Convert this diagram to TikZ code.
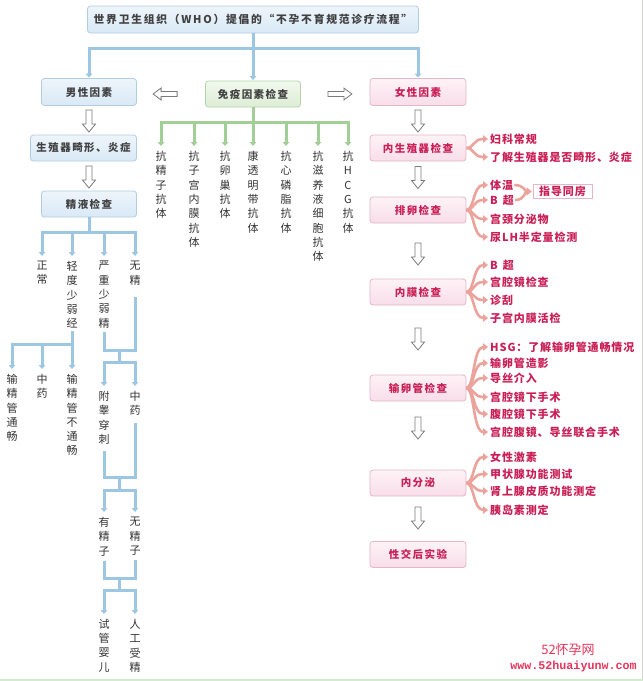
\documentclass[tikz,border=0pt]{standalone}
\usepackage{fontspec}
\setmainfont{Noto Sans CJK SC}
\newfontfamily\cjk{Noto Sans CJK SC}
\newfontfamily\cjksp[LetterSpace=16]{Noto Sans CJK SC}
\newfontfamily\cjkbox[LetterSpace=14]{Noto Sans CJK SC}
\newfontfamily\cjkitem[LetterSpace=8]{Noto Sans CJK SC}
\newfontfamily\wmono{Liberation Mono}
\usetikzlibrary{arrows.meta,calc}
\definecolor{bluetop}{HTML}{EEF5FB}
\definecolor{bluebot}{HTML}{D9E9F6}
\definecolor{blueborder}{HTML}{B0CDE4}
\definecolor{blueline}{HTML}{9DC6E3}
\definecolor{greentop}{HTML}{F2F8EF}
\definecolor{greenbot}{HTML}{DDEDD5}
\definecolor{greenborder}{HTML}{B4D3A9}
\definecolor{greenline}{HTML}{A3CE98}
\definecolor{pinktop}{HTML}{FEF3F7}
\definecolor{pinkbot}{HTML}{F8DDE8}
\definecolor{pinkborder}{HTML}{E4B6C7}
\definecolor{pinktext}{HTML}{C91F56}
\definecolor{branchcol}{HTML}{EBA39C}
\definecolor{arrgray}{HTML}{7A7A7A}
\definecolor{labeltext}{HTML}{333333}
\definecolor{boxtext}{HTML}{404040}
\definecolor{wmred}{HTML}{E8345A}
\definecolor{stripgreen}{HTML}{D3EBCF}
\definecolor{edgegray}{HTML}{D0D4D0}
\tikzset{
 boxbase/.style={rounded corners=3pt, line width=0.8pt, minimum height=26pt, inner sep=0pt, font=\cjkbox\fontsize{10.5}{12}\selectfont\bfseries},
 bluebox/.style={boxbase, draw=blueborder, top color=bluetop, bottom color=bluebot, text=boxtext},
 greenbox/.style={boxbase, draw=greenborder, top color=greentop, bottom color=greenbot, text=boxtext},
 pinkbox/.style={boxbase, draw=pinkborder, top color=pinktop, bottom color=pinkbot, text=pinktext, minimum width=96pt},
 vlabel/.style={anchor=north, inner sep=0pt, align=center, font=\cjk\fontsize{11}{14.3}\selectfont, text=labeltext},
 bline/.style={draw=blueline, line width=3pt},
 barrow/.style={bline, -{Triangle[width=6.5pt,length=4pt]}, shorten >=5pt},
 gline/.style={draw=greenline, line width=3pt},
 garrow/.style={gline, -{Triangle[width=6.5pt,length=4pt]}, shorten >=5pt},
 item/.style={anchor=west, inner sep=1pt, font=\cjkitem\fontsize{11}{12}\selectfont\bfseries, text=pinktext},
 branch/.style={draw=branchcol, line width=2.6pt, -{Triangle[width=7.5pt,length=5pt]}, shorten >=1pt},
 blockarr/.style={draw=arrgray, fill=white, line width=0.8pt, line join=miter},
}
\newcommand\vblockarrow[2]{%
 \path[blockarr] let \p1=(#1.south), \p2=(0,#2) in
 (\x1-3pt,\y2+11pt) -- (\x1+3pt,\y2+11pt) -- (\x1+3pt,\y2-3pt) -- (\x1+6.5pt,\y2-3pt) -- (\x1,\y2-11pt) -- (\x1-6.5pt,\y2-3pt) -- (\x1-3pt,\y2-3pt) -- cycle;}
\begin{document}
\begin{tikzpicture}[x=1pt,y=-1pt]
\useasboundingbox (0,0) rectangle (643,681);
\fill[white] (0,0) rectangle (643,681);
\fill[stripgreen] (0,678.5) rectangle (643,681);
\draw[edgegray, line width=1pt] (642.5,0) -- (642.5,678.5);

% main boxes
\node[bluebox, minimum width=331pt, minimum height=27pt, font=\cjksp\fontsize{10.8}{12}\selectfont\bfseries] (title) at (253,19.5) {世界卫生组织（WHO）提倡的“不孕不育规范诊疗流程”};
\node[bluebox, minimum width=95pt, minimum height=27pt] (m1) at (89,92) {男性因素};
\node[bluebox, minimum width=106pt] (m2) at (83.5,148) {生殖器畸形、炎症};
\node[bluebox, minimum width=95pt] (m3) at (89,204) {精液检查};
\node[greenbox, minimum width=95pt] (imm) at (253,94) {免疫因素检查};
\node[pinkbox, minimum height=27pt] (f1) at (418,92) {女性因素};
\node[pinkbox] (f2) at (418,148) {内生殖器检查};
\node[pinkbox] (f3) at (418,210) {排卵检查};
\node[pinkbox] (f4) at (418,292) {内膜检查};
\node[pinkbox] (f5) at (418,388) {输卵管检查};
\node[pinkbox] (f6) at (418,483) {内分泌};
\node[pinkbox] (f7) at (418,554.5) {性交后实验};

% title connectors
\draw[bline] (m1.north |- 0,48) -- (f1.north |- 0,48);
\draw[barrow, shorten >=0.5pt] (title.south) -- (imm.north);
\draw[barrow, shorten >=0.5pt] (m1.north |- 0,46.5) -- (m1.north);
\draw[barrow, shorten >=0.5pt] (f1.north |- 0,46.5) -- (f1.north);

% hollow block arrows
\vblockarrow{m1}{121}
\vblockarrow{m1}{177}
\vblockarrow{f1}{121}
\vblockarrow{f2}{177.5}
\vblockarrow{f3}{254}
\vblockarrow{f4}{339}
\vblockarrow{f5}{428}
\vblockarrow{f6}{518}
\path[blockarr] let \p1=($(imm.west)+(-40,0)$) in
 (\x1+12pt,\y1+2.5pt) -- (\x1-4pt,\y1+2.5pt) -- (\x1-4pt,\y1+6pt) -- (\x1-12pt,\y1) -- (\x1-4pt,\y1-6pt) -- (\x1-4pt,\y1-2.5pt) -- (\x1+12pt,\y1-2.5pt) -- cycle;
\path[blockarr] let \p1=($(imm.east)+(39,0)$) in
 (\x1-12pt,\y1+2.5pt) -- (\x1+4pt,\y1+2.5pt) -- (\x1+4pt,\y1+6pt) -- (\x1+12pt,\y1) -- (\x1+4pt,\y1-6pt) -- (\x1+4pt,\y1-2.5pt) -- (\x1-12pt,\y1-2.5pt) -- cycle;

% immune labels
\node[vlabel] (il1) at (161,151) {抗\\精\\子\\抗\\体};
\node[vlabel] (il2) at (194,151) {抗\\子\\宫\\内\\膜\\抗\\体};
\node[vlabel] (il3) at (225,151) {抗\\卵\\巢\\抗\\体};
\node[vlabel] (il4) at (253,151) {康\\透\\明\\带\\抗\\体};
\node[vlabel] (il5) at (286,151) {抗\\心\\磷\\脂\\抗\\体};
\node[vlabel] (il6) at (318,151) {抗\\滋\\养\\液\\细\\胞\\抗\\体};
\node[vlabel] (il7) at (348,151) {抗\\H\\C\\G\\抗\\体};
\draw[gline] (imm.south) -- (imm.south |- 0,122);
\draw[gline] (il1.north |- 0,122) -- (il7.north |- 0,122);
\foreach \n in {il1,il2,il3,il4,il5,il6,il7} \draw[garrow] (\n.north |- 0,120.5) -- (\n.north);

% male labels
\node[vlabel] (ml1) at (42,261) {正\\常};
\node[vlabel] (ml2) at (72,261) {轻\\度\\少\\弱\\经};
\node[vlabel] (ml3) at (104,261) {严\\重\\少\\弱\\精};
\node[vlabel] (ml4) at (135,261) {无\\精};
\node[vlabel] (ml5) at (12,374) {输\\精\\管\\通\\畅};
\node[vlabel] (ml6) at (42,374) {中\\药};
\node[vlabel] (ml7) at (72,374) {输\\精\\管\\不\\通\\畅};
\node[vlabel] (ml8) at (104,391) {附\\睾\\穿\\刺};
\node[vlabel] (ml9) at (135,391) {中\\药};
\node[vlabel] (ml10) at (104,517) {有\\精\\子};
\node[vlabel] (ml11) at (135,517) {无\\精\\子};
\node[vlabel] (ml12) at (104,619) {试\\管\\婴\\儿};
\node[vlabel] (ml13) at (135,619) {人\\工\\受\\精};

% male tree connectors
\draw[bline] (m3.south) -- (m3.south |- 0,233.5);
\draw[bline] (ml1.north |- 0,232) -- (ml4.north |- 0,232);
\foreach \n in {ml1,ml2,ml3,ml4} \draw[barrow] (\n.north |- 0,230.5) -- (\n.north);

\draw[bline, shorten <=3pt] (ml2.south) -- (ml2.south |- 0,345.5);
\draw[bline] (ml5.north |- 0,344) -- (ml7.north |- 0,344);
\foreach \n in {ml5,ml6,ml7} \draw[barrow] (\n.north |- 0,342.5) -- (\n.north);

\draw[bline, shorten <=4pt] (ml3.south) -- (ml3.south |- 0,351.5);
\draw[bline, shorten <=12pt] (ml4.south) -- (ml4.south |- 0,351.5);
\draw[bline] (ml3.south |- 0,350) -- (ml4.south |- 0,350);
\coordinate (j1) at ($(ml3.south |- 0,350)!0.5!(ml4.south |- 0,350)$);
\draw[bline] (j1) -- (j1 |- 0,363.5);
\draw[bline] (ml8.north |- 0,362) -- (ml9.north |- 0,362);
\foreach \n in {ml8,ml9} \draw[barrow] (\n.north |- 0,360.5) -- (\n.north);

\draw[bline, shorten <=7pt] (ml8.south) -- (ml8.south |- 0,478.5);
\draw[bline, shorten <=7pt] (ml9.south) -- (ml9.south |- 0,478.5);
\draw[bline] (ml8.south |- 0,477) -- (ml9.south |- 0,477);
\coordinate (j2) at ($(ml8.south |- 0,477)!0.5!(ml9.south |- 0,477)$);
\draw[bline] (j2) -- (j2 |- 0,491.5);
\draw[bline] (ml10.north |- 0,490) -- (ml11.north |- 0,490);
\foreach \n in {ml10,ml11} \draw[barrow] (\n.north |- 0,488.5) -- (\n.north);

\draw[bline, shorten <=5pt] (ml10.south) -- (ml10.south |- 0,579.5);
\draw[bline, shorten <=5pt] (ml11.south) -- (ml11.south |- 0,579.5);
\draw[bline] (ml10.south |- 0,578) -- (ml11.south |- 0,578);
\coordinate (j3) at ($(ml10.south |- 0,578)!0.5!(ml11.south |- 0,578)$);
\draw[bline] (j3) -- (j3 |- 0,591.5);
\draw[bline] (ml12.north |- 0,590) -- (ml13.north |- 0,590);
\foreach \n in {ml12,ml13} \draw[barrow] (\n.north |- 0,588.5) -- (\n.north);

% female items
\node[item] (r1) at (489,139) {妇科常规};
\node[item] (r2) at (489,157) {了解生殖器是否畸形、炎症};
\node[item] (r3) at (489,185) {体温};
\node[item] (r4) at (489,200) {B\hspace{5pt}超};
\node[item] (r5) at (489,219) {宫颈分泌物};
\node[item] (r6) at (489,237) {尿LH半定量检测};
\node[draw=pinkborder, fill=white, line width=0.8pt, inner sep=0pt, minimum width=59pt, minimum height=14pt, font=\cjkitem\fontsize{11}{12}\selectfont\bfseries, text=pinktext] (g) at (562.5,191.5) {指导同房};
\node[item] (r7) at (489,265) {B\hspace{5pt}超};
\node[item] (r8) at (489,282) {宫腔镜检查};
\node[item] (r9) at (489,300) {诊刮};
\node[item] (r10) at (489,318) {子宫内膜活检};
\node[item] (r11) at (489,347) {HSG：了解输卵管通畅情况};
\node[item] (r12) at (489,363) {输卵管造影};
\node[item] (r13) at (489,378) {导丝介入};
\node[item] (r14) at (489,397) {宫腔镜下手术};
\node[item] (r15) at (489,414) {腹腔镜下手术};
\node[item] (r16) at (489,432) {宫腔腹镜、导丝联合手术};
\node[item] (r17) at (489,457) {女性激素};
\node[item] (r18) at (489,474) {甲状腺功能测试};
\node[item] (r19) at (489,491) {肾上腺皮质功能测定};
\node[item] (r20) at (489,510) {胰岛素测定};

\foreach \b/\r in {f2/r1,f2/r2,f3/r3,f3/r4,f3/r5,f3/r6,f4/r7,f4/r8,f4/r9,f4/r10,f5/r11,f5/r12,f5/r13,f5/r14,f5/r15,f5/r16,f6/r17,f6/r18,f6/r19,f6/r20}
 \draw[branch] (\b.east) .. controls +(8,0) and +(-16,0) .. (\r.west);
\draw[branch] (r3.east) .. controls +(10,0) and +(-8,0) .. (g.west);
\draw[branch] (r4.east) .. controls +(10,0) and +(-8,0) .. (g.west);

% watermark
\node[inner sep=0pt, font=\cjk\fontsize{13}{15}\selectfont, text=wmred] (wm1) at (568,650) {52怀孕网};
\node[inner sep=0pt, font=\wmono\fontsize{11.7}{13}\selectfont\bfseries, text=wmred] (wm2) at (573.5,666) {www.52huaiyunw.com};
\end{tikzpicture}
\end{document}
